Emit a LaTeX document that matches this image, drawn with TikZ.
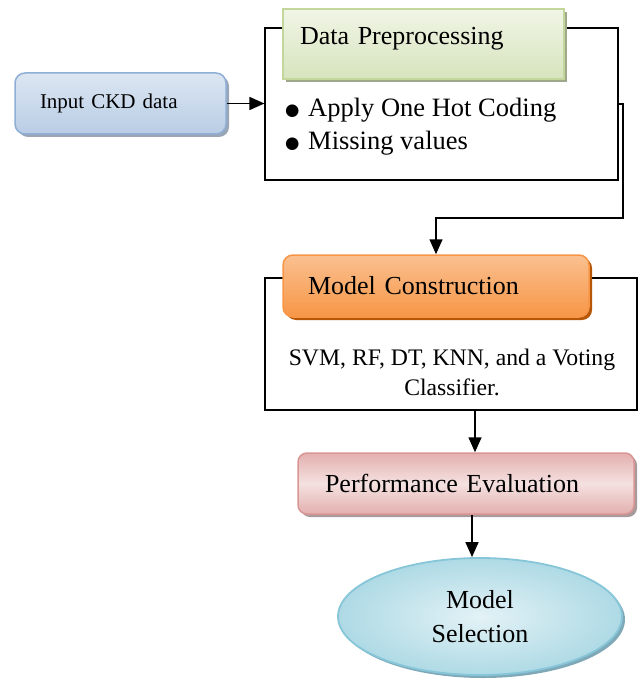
\documentclass[tikz,border=0pt]{standalone}
\usepackage{fontspec}
\setmainfont{Liberation Serif}
\newfontfamily\symfont{DejaVu Sans}
\usepackage{xcolor}
\usetikzlibrary{arrows.meta,positioning,shapes.geometric,shadows}

\definecolor{inedge}{HTML}{8EAED6}
\definecolor{intop}{HTML}{DCE6F2}
\definecolor{inbot}{HTML}{B9CDE5}
\definecolor{inshade}{HTML}{9AA6B6}
\definecolor{gredge}{HTML}{C3D69B}
\definecolor{grtop}{HTML}{F0F5E6}
\definecolor{grbot}{HTML}{D7E4BD}
\definecolor{grshade}{HTML}{A0A88C}
\definecolor{oredge}{HTML}{F79646}
\definecolor{ortop}{HTML}{FAC090}
\definecolor{orbot}{HTML}{F79646}
\definecolor{orshade}{HTML}{B65708}
\definecolor{rdedge}{HTML}{D99694}
\definecolor{rdtop}{HTML}{E3B0AF}
\definecolor{rdmid}{HTML}{F4E1E0}
\definecolor{rdshade}{HTML}{A89A9A}
\definecolor{bledge}{HTML}{86C6D8}
\definecolor{blin}{HTML}{E3F2F6}
\definecolor{blout}{HTML}{AEDAE5}
\definecolor{blshade}{HTML}{7FA9B8}

\newcommand{\bigdot}{\makebox[23pt][l]{\raisebox{1.5pt}{\symfont\fontsize{16.5}{20}\selectfont ●}}}

\begin{document}
\begin{tikzpicture}[
  x=1pt,y=-1pt,
  groupframe/.style={draw,line width=1.1pt,inner sep=0pt},
  inbox/.style={draw=inedge,line width=1.5pt,rounded corners=10pt,
                top color=intop,bottom color=inbot,
                minimum height=61pt,text width=161pt,inner xsep=25pt,align=left,
                font=\fontsize{21}{25}\selectfont,
                drop shadow={shadow xshift=3pt,shadow yshift=-3pt,opacity=1,fill=inshade}},
  greenhead/.style={draw=gredge,line width=1.5pt,top color=grtop,bottom color=grbot,
                minimum height=70pt,text width=247pt,inner xsep=17pt,align=left,
                text height=18pt,text depth=16pt,
                font=\fontsize{26}{30}\selectfont,
                drop shadow={shadow xshift=3pt,shadow yshift=-3pt,opacity=1,fill=grshade}},
  orangehead/.style={draw=oredge,line width=1.5pt,rounded corners=10pt,
                top color=ortop,bottom color=orbot,
                minimum height=62pt,text width=256pt,inner xsep=25pt,align=left,
                font=\fontsize{26}{30}\selectfont,
                drop shadow={shadow xshift=3pt,shadow yshift=-3pt,opacity=1,fill=orshade}},
  evalbox/.style={draw=rdedge,line width=1.5pt,rounded corners=9pt,
                top color=rdtop,bottom color=rdtop,middle color=rdmid,
                minimum height=61pt,text width=282pt,inner xsep=27pt,align=left,
                font=\fontsize{26}{30}\selectfont,
                drop shadow={shadow xshift=3pt,shadow yshift=-3pt,opacity=1,fill=rdshade}},
  selell/.style={ellipse,draw=bledge,line width=1.8pt,inner color=blin,outer color=blout,
                minimum width=284pt,minimum height=117pt,inner sep=0pt,align=center,
                font=\fontsize{26}{34}\selectfont,
                drop shadow={shadow xshift=3pt,shadow yshift=-3pt,opacity=1,fill=blshade}},
  flow/.style={-{Triangle[length=15pt,width=13pt]},line width=1.5pt}
]
\useasboundingbox (0,0) rectangle (638,679);
% outer frames
\node[groupframe,minimum width=353pt,minimum height=152pt] (prepframe) at (441.5,104) {};
\node[groupframe,minimum width=372pt,minimum height=132pt] (mcframe) at (451,344) {};
% boxes
\node[inbox] (input) at (120.5,103.5) {Input CKD data};
\node[greenhead] (prephead) at (423.5,44) {Data Preprocessing};
\node[anchor=west,align=left,inner sep=0pt,font=\fontsize{26.5}{33}\selectfont] (prepitems) at (285,127)
  {\bigdot Apply One Hot Coding\\\bigdot Missing values};
\node[orangehead] (mchead) at (436,286) {Model Construction};
\node[align=center,font=\fontsize{23.7}{30}\selectfont] (mcalgos) at (452,372)
  {SVM, RF, DT, KNN, and a Voting\\Classifier.};
\node[evalbox] (perf) at (466,483.5) {Performance Evaluation};
\node[selell] (msel) at (480,616.5) {Model\\Selection};
% connectors
\coordinate (bend) at (623,218);
\draw[flow] (input.east) -- (input.east -| prepframe.west);
\draw[flow] (prepframe.east) -| (bend) -| (mchead.north);
\draw[flow] ([xshift=24pt]mcframe.south) -- ([xshift=24pt]mcframe.south |- perf.north);
\draw[flow] ([xshift=6pt]perf.south) -- ([xshift=6pt]perf.south |- msel.north);
\end{tikzpicture}
\end{document}
